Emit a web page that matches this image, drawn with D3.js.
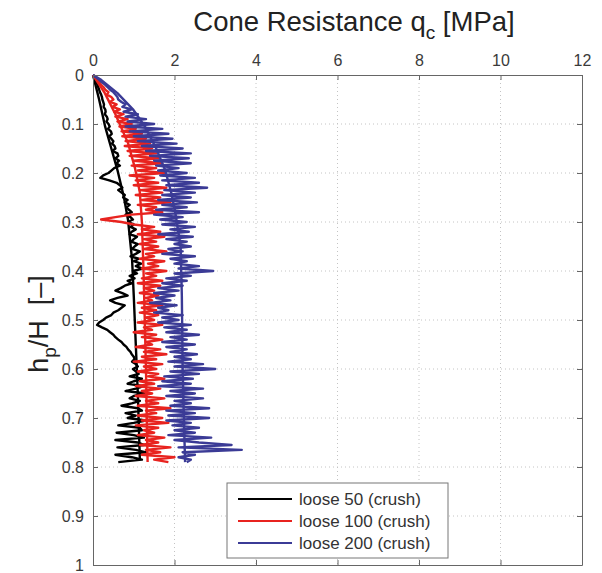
<!DOCTYPE html>
<html>
<head>
<meta charset="utf-8">
<script src="https://cdn.jsdelivr.net/npm/d3@7"></script>
<style>
body{margin:0;background:#fff;}
text{font-family:"Liberation Sans",Arial,sans-serif;}
</style>
</head>
<body>
<svg width="602" height="573"></svg>
<script>
// ticks
var xTicks = [0,2,4,6,8,10,12];
var yTicks = [0,0.1,0.2,0.3,0.4,0.5,0.6,0.7,0.8,0.9,1];
var legendNames = ["loose 50 (crush)","loose 100 (crush)","loose 200 (crush)"];

// depth h_p/H of measured points (step 0.005)
var depth = [0,0.005,0.01,0.015,0.02,0.025,0.03,0.035,0.04,0.045,
  0.05,0.055,0.06,0.065,0.07,0.075,0.08,0.085,0.09,0.095,
  0.1,0.105,0.11,0.115,0.12,0.125,0.13,0.135,0.14,0.145,
  0.15,0.155,0.16,0.165,0.17,0.175,0.18,0.185,0.19,0.195,
  0.2,0.205,0.21,0.215,0.22,0.225,0.23,0.235,0.24,0.245,
  0.25,0.255,0.26,0.265,0.27,0.275,0.28,0.285,0.29,0.295,
  0.3,0.305,0.31,0.315,0.32,0.325,0.33,0.335,0.34,0.345,
  0.35,0.355,0.36,0.365,0.37,0.375,0.38,0.385,0.39,0.395,
  0.4,0.405,0.41,0.415,0.42,0.425,0.43,0.435,0.44,0.445,
  0.45,0.455,0.46,0.465,0.47,0.475,0.48,0.485,0.49,0.495,
  0.5,0.505,0.51,0.515,0.52,0.525,0.53,0.535,0.54,0.545,
  0.55,0.555,0.56,0.565,0.57,0.575,0.58,0.585,0.59,0.595,
  0.6,0.605,0.61,0.615,0.62,0.625,0.63,0.635,0.64,0.645,
  0.65,0.655,0.66,0.665,0.67,0.675,0.68,0.685,0.69,0.695,
  0.7,0.705,0.71,0.715,0.72,0.725,0.73,0.735,0.74,0.745,
  0.75,0.755,0.76,0.765,0.77,0.775,0.78,0.785,0.79];

// qc measured [MPa]
var q50 = [0,0.03,0.06,0.08,0.11,0.13,0.15,0.17,0.2,0.22,
  0.23,0.25,0.27,0.26,0.3,0.31,0.29,0.34,0.36,0.33,
  0.38,0.41,0.37,0.44,0.46,0.4,0.45,0.5,0.47,0.53,
  0.55,0.48,0.6,0.62,0.55,0.64,0.58,0.66,0.52,0.45,
  0.38,0.25,0.18,0.4,0.58,0.66,0.72,0.62,0.7,0.78,
  0.74,0.85,0.78,0.9,0.82,0.88,0.95,0.8,0.92,0.98,
  0.86,1.0,0.92,1.05,0.95,0.9,1.08,1.0,0.94,1.1,
  1.02,0.96,1.15,1.05,0.92,1.12,1.0,1.18,1.05,1.22,
  0.98,1.08,0.9,1.02,0.85,0.95,0.78,0.68,0.55,0.72,
  0.85,0.6,0.42,0.55,0.78,0.7,0.62,0.5,0.45,0.32,
  0.25,0.15,0.1,0.22,0.35,0.42,0.5,0.55,0.62,0.7,
  0.75,0.82,0.86,0.92,0.95,1.0,1.02,0.96,1.05,1.1,
  0.98,1.05,1.12,0.9,1.2,1.0,0.85,1.25,1.05,0.8,
  1.3,1.0,0.9,1.15,0.95,0.7,1.1,1.2,0.8,1.05,
  0.85,1.3,1.0,0.62,1.15,1.2,0.58,1.0,1.25,0.55,
  1.1,1.25,0.6,1.05,1.3,0.55,0.95,1.2,0.62];
var q100 = [0,0.05,0.1,0.16,0.2,0.26,0.3,0.38,0.34,0.45,
  0.5,0.42,0.58,0.48,0.66,0.52,0.75,0.55,0.85,0.6,
  0.95,0.65,1.05,0.7,1.2,0.72,1.3,0.8,1.4,0.78,
  1.45,0.85,1.55,0.9,1.6,1.0,1.7,0.95,1.55,1.1,
  1.75,0.9,1.5,1.05,1.6,1.0,1.8,1.15,1.7,1.05,
  1.65,1.2,1.9,1.1,1.55,1.3,1.7,0.95,0.55,0.2,
  0.7,1.0,1.5,1.2,1.65,1.1,1.75,1.25,1.55,1.15,
  1.6,1.25,1.8,1.3,1.5,1.15,1.75,1.35,1.6,1.2,
  1.8,1.3,1.55,1.2,1.7,1.1,1.65,1.25,1.5,1.15,
  1.6,1.3,1.45,1.1,1.7,1.2,1.55,1.15,1.6,1.3,
  1.5,1.1,1.7,1.25,1.45,1.0,1.55,1.2,1.7,1.3,
  1.45,1.05,1.65,1.25,1.8,1.2,1.55,1.0,1.7,1.25,
  1.55,1.1,1.6,1.35,1.75,1.15,1.5,1.05,1.65,1.2,
  1.45,1.05,1.75,1.3,1.6,1.1,1.9,1.3,1.55,1.1,
  1.7,1.2,1.85,1.05,1.6,1.25,1.5,1.1,1.75,1.3,
  1.6,1.15,1.9,1.3,1.65,1.2,2.0,1.5,1.85];
var q200 = [0,0.08,0.15,0.22,0.3,0.36,0.42,0.5,0.55,0.6,
  0.62,0.7,0.8,0.72,0.95,0.75,1.1,0.8,1.3,0.85,
  1.5,0.8,1.7,0.9,1.85,1.0,1.95,1.1,2.05,1.2,
  2.2,1.3,2.4,1.4,2.35,1.5,2.4,1.55,2.1,1.6,
  2.3,1.65,2.5,1.7,2.6,1.8,2.8,1.75,2.5,1.7,
  2.4,1.6,2.55,1.7,2.3,1.55,2.6,1.5,2.2,1.65,
  2.3,1.7,2.5,1.9,2.35,1.6,2.45,1.8,2.3,2.0,
  2.4,1.85,2.2,1.7,2.5,1.9,2.3,2.0,2.6,2.1,
  2.95,2.0,2.4,1.8,2.3,1.7,2.2,1.6,2.1,1.5,
  2.0,1.55,1.9,1.4,2.05,1.6,1.85,1.5,2.2,1.7,
  2.1,1.6,2.4,1.75,2.3,1.8,2.6,1.9,2.3,1.7,
  2.5,1.8,2.3,1.9,2.55,2.0,2.4,1.85,2.7,2.0,
  3.0,1.9,2.6,1.75,2.45,1.7,2.4,1.6,2.7,1.9,
  2.5,1.8,2.7,2.0,2.4,1.9,2.85,1.8,2.5,1.85,
  2.85,1.8,2.4,1.95,2.6,2.0,2.5,1.85,2.9,2.0,
  2.6,3.4,2.1,3.65,2.2,2.5,2.1,2.4,2.3];

// fitted trend lines
var fitDepth50 = [0,0.05,0.106,0.15,0.194,0.25,0.296,0.378,0.45,0.55,0.65,0.785];
var fit50 = [0,0.15,0.3,0.45,0.6,0.76,0.86,0.96,1.0,1.05,1.1,1.15];
var fitDepth100 = [0,0.037,0.08,0.139,0.19,0.24,0.3,0.4,0.5,0.6,0.7,0.79];
var fit100 = [0,0.29,0.55,0.86,1.03,1.15,1.2,1.24,1.27,1.3,1.32,1.34];
var fitDepth200 = [0,0.01,0.037,0.07,0.106,0.15,0.194,0.24,0.276,0.35,0.45,0.6,0.7,0.79];
var fit200 = [0,0.2,0.6,0.98,1.28,1.55,1.77,1.92,2.01,2.15,2.18,2.2,2.23,2.26];

var kolory = ["#000000","#e8231f","#3b3b96"];

var svg = d3.select("svg");
var lewo = 93, prawo = 582, gora = 75, dol = 565;

var x = d3.scaleLinear().domain([0,12]).range([lewo,prawo]);
var y = d3.scaleLinear().domain([0,1]).range([gora,dol]);

// grid
svg.selectAll(".gx").data(xTicks.slice(1,-1)).enter().append("line")
  .attr("x1",d=>x(d)).attr("x2",d=>x(d)).attr("y1",gora).attr("y2",dol)
  .style("stroke","#c4c4c4").style("stroke-width",1).style("stroke-dasharray","1,3");
svg.selectAll(".gy").data(yTicks.slice(1,-1)).enter().append("line")
  .attr("x1",lewo).attr("x2",prawo).attr("y1",d=>y(d)).attr("y2",d=>y(d))
  .style("stroke","#c4c4c4").style("stroke-width",1).style("stroke-dasharray","1,3");

function seria(ys,xs,kolor){
  var pts = ys.map((d,i)=>[xs[i],d]);
  svg.append("path")
    .datum(pts)
    .attr("d",d3.line().x(d=>x(d[0])).y(d=>y(d[1])))
    .style("fill","none")
    .style("stroke",kolor)
    .style("stroke-width",2.4)
    .style("stroke-linejoin","round");
}
seria(depth,q50,kolory[0]);
seria(fitDepth50,fit50,kolory[0]);
seria(depth,q100,kolory[1]);
seria(fitDepth100,fit100,kolory[1]);
seria(depth,q200,kolory[2]);
seria(fitDepth200,fit200,kolory[2]);

// axes, ticks inward like matlab
var osTop = svg.append("g").attr("transform","translate(0,"+gora+")")
  .call(d3.axisTop(x).tickValues(xTicks).tickSizeInner(-5).tickSizeOuter(0).tickPadding(9));
var osLeft = svg.append("g").attr("transform","translate("+lewo+",0)")
  .call(d3.axisLeft(y).tickValues(yTicks).tickFormat(d3.format("~g")).tickSizeInner(-5).tickSizeOuter(0).tickPadding(9));
var osBot = svg.append("g").attr("transform","translate(0,"+dol+")")
  .call(d3.axisBottom(x).tickValues(xTicks).tickSizeInner(-5).tickSizeOuter(0).tickFormat(""));
var osRight = svg.append("g").attr("transform","translate("+prawo+",0)")
  .call(d3.axisRight(y).tickValues(yTicks).tickSizeInner(-5).tickSizeOuter(0).tickFormat(""));
[osTop,osLeft,osBot,osRight].forEach(function(o){
  o.select(".domain").style("stroke","#666");
  o.selectAll(".tick line").style("stroke","#666");
  o.selectAll("text").style("font-size","16px").style("fill","#3a3a3a")
    .style("font-family","'Liberation Sans',Arial,sans-serif");
});

// title
var t = svg.append("text").attr("x",354).attr("y",31).attr("text-anchor","middle")
  .attr("font-size",27.5).attr("fill","#222");
t.append("tspan").text("Cone Resistance q");
t.append("tspan").attr("dy",8).attr("font-size",19).text("c");
t.append("tspan").attr("dy",-8).text(" [MPa]");

// y label
var yl = svg.append("text").attr("transform","translate(48,324) rotate(-90)")
  .attr("text-anchor","middle").attr("font-size",27).attr("fill","#222");
yl.append("tspan").text("h");
yl.append("tspan").attr("dy",8).attr("font-size",19).text("p");
yl.append("tspan").attr("dy",-8).text("/H\u00a0\u00a0[\u2013]");

// legend
svg.append("rect").attr("x",227).attr("y",483).attr("width",221).attr("height",75)
  .style("fill","#fff").style("stroke","#777").style("stroke-width",1);
legendNames.forEach(function(n,i){
  var ly = 499 + i*22;
  svg.append("line").attr("x1",238).attr("x2",292).attr("y1",ly).attr("y2",ly)
    .style("stroke",kolory[i]).style("stroke-width",2);
  svg.append("text").attr("x",299).attr("y",ly+6).attr("font-size",17)
    .attr("fill","#333").text(n);
});
</script>
</body>
</html>
